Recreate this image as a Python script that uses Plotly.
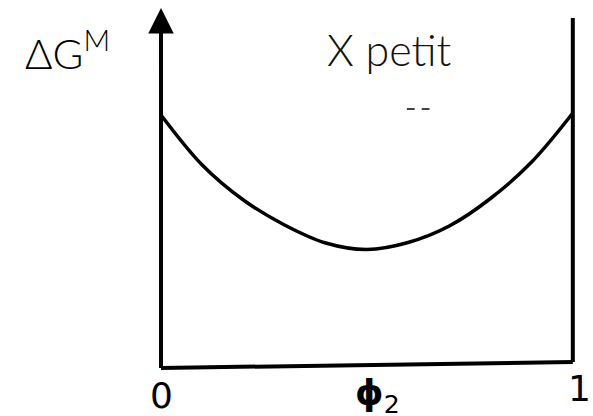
import plotly.graph_objects as go

# Mixing free energy curve for a small interaction parameter (schematic)
phi2 = [0.0, 0.1, 0.2, 0.3, 0.4, 0.5, 0.6, 0.7, 0.8, 0.9, 1.0]
dGm = [2.53, 2.03, 1.68, 1.43, 1.25, 1.185, 1.255, 1.42, 1.695, 2.06, 2.55]

# Axis frame (schematic coordinates)
y_axis_top = 3.60
right_wall_top = 3.50
base_right = 0.06

tick_vals = [0.0, 0.52, 1.0]
tick_text = ["0", "<b>ϕ</b><sub>2</sub>", "1"]

fig = go.Figure()

# curve
fig.add_trace(go.Scatter(x=phi2, y=dGm, mode="lines",
                         line=dict(color="black", width=3.5, shape="spline", smoothing=1.0),
                         hoverinfo="skip"))

# baseline, left axis and right wall
fig.add_trace(go.Scatter(x=[0, 1], y=[0, base_right], mode="lines",
                         line=dict(color="black", width=4), hoverinfo="skip"))
fig.add_trace(go.Scatter(x=[0, 0], y=[0, y_axis_top - 0.2], mode="lines",
                         line=dict(color="black", width=4), hoverinfo="skip"))
fig.add_trace(go.Scatter(x=[1, 1], y=[base_right, right_wall_top], mode="lines",
                         line=dict(color="black", width=4), hoverinfo="skip"))

# arrow head of the vertical axis
fig.add_annotation(x=0, y=y_axis_top, ax=0, ay=y_axis_top - 0.6,
                   xref="x", yref="y", axref="x", ayref="y",
                   showarrow=True, arrowhead=2, arrowsize=1.7, arrowwidth=3,
                   arrowcolor="black", text="")

# tick labels
tick_y = [-0.27, -0.27, -0.20]
tick_x = [0.0, 0.525, 1.015]
for xv, yv, t in zip(tick_x, tick_y, tick_text):
    fig.add_annotation(x=xv, y=yv, xref="x", yref="y", text=t, showarrow=False,
                       font=dict(family="DejaVu Sans", size=36, color="black"),
                       xanchor="center", yanchor="middle")

# axis title and chart title
fig.add_annotation(x=-0.228, y=3.18, xref="x", yref="y",
                   text="ΔG<sup>M</sup>", showarrow=False,
                   font=dict(family="Lato", size=42, color="black", weight=300),
                   xanchor="center", yanchor="middle")
fig.add_annotation(x=0.554, y=3.19, xref="x", yref="y",
                   text="X petit", showarrow=False,
                   font=dict(family="Lato", size=43, color="#111111", weight=300),
                   xanchor="center", yanchor="middle")

# two faint dashes
for x0, x1 in [(0.597, 0.616), (0.633, 0.652)]:
    fig.add_shape(type="line", x0=x0, x1=x1, y0=2.59, y1=2.59, xref="x", yref="y",
                  line=dict(color="#444444", width=2))

fig.update_layout(
    width=593, height=416,
    margin=dict(l=0, r=0, t=0, b=0),
    paper_bgcolor="white", plot_bgcolor="white",
    showlegend=False,
    xaxis=dict(range=[-0.391, 1.049], visible=False, fixedrange=True),
    yaxis=dict(range=[-0.48, 3.68], visible=False, fixedrange=True),
)

fig.write_html("out.html")
